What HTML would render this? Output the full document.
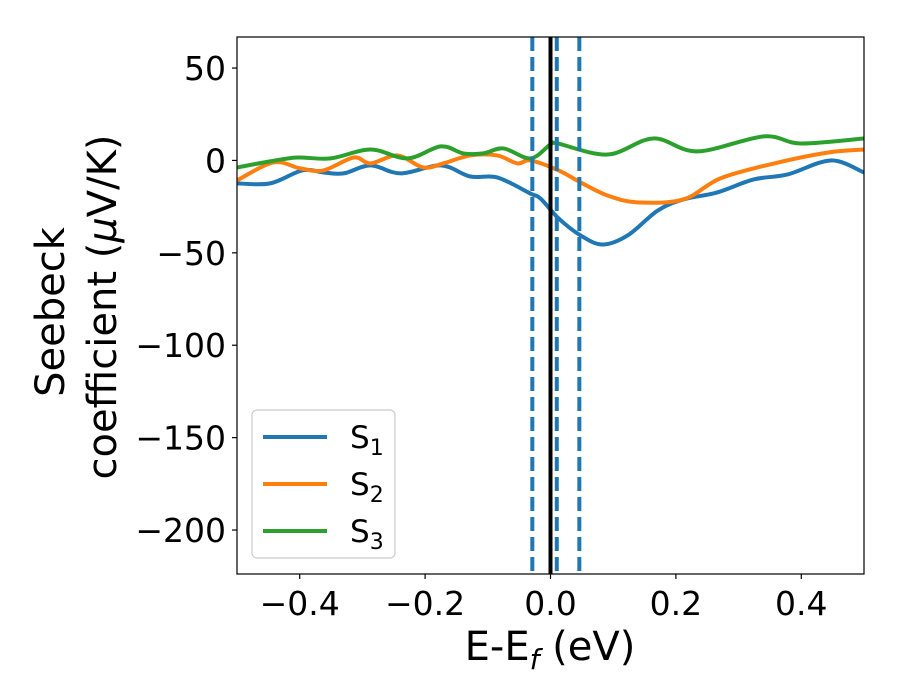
<!DOCTYPE html>
<html><head><meta charset="utf-8"><style>
body{margin:0;background:#fff}
svg{display:block;font-family:"DejaVu Sans","Liberation Sans",sans-serif}
</style></head><body>
<svg id="chart" width="900" height="700">
<rect width="900" height="700" fill="#fff"/>
<g id="plot"></g>
</svg>
<script>
const s1x=[-0.5,-0.447,-0.396,-0.362,-0.330,-0.287,-0.239,-0.175,-0.128,-0.085,-0.032,-0.016,0.013,0.048,0.083,0.123,0.171,0.212,0.266,0.324,0.378,0.447,0.5];
const s1y=[-12.4,-12.4,-5.4,-6.5,-7.0,-2.7,-7.0,-2.7,-8.7,-9.2,-17.9,-20.6,-31.4,-40.6,-45.5,-40.6,-27.1,-21.1,-17.3,-10.3,-7.6,0,-6.5];
const s2x=[-0.5,-0.442,-0.399,-0.362,-0.314,-0.287,-0.244,-0.203,-0.171,-0.128,-0.085,-0.053,-0.032,0.013,0.048,0.091,0.139,0.212,0.271,0.357,0.443,0.5];
const s2y=[-10.8,-1.1,-4.3,-5.4,1.6,-1.6,2.7,-3.8,-1.6,2.7,2.7,-1.6,0,-5.4,-11.9,-19.0,-22.7,-21.1,-9.7,-1.6,4.3,5.9];
const s3x=[-0.5,-0.447,-0.404,-0.351,-0.287,-0.228,-0.175,-0.139,-0.107,-0.075,-0.032,0.0,0.011,0.091,0.164,0.234,0.340,0.399,0.5];
const s3y=[-3.8,-0.5,1.6,1.1,5.9,1.1,7.6,3.8,3.8,6.5,1.1,8.7,9.2,3.2,11.9,4.9,13.0,9.2,11.9];
const xTicks=[-0.4,-0.2,0.0,0.2,0.4];
const xTickLabels=["\u22120.4","\u22120.2","0.0","0.2","0.4"];
const yTicks=[50,0,-50,-100,-150,-200];
const yTickLabels=["50","0","\u221250","\u2212100","\u2212150","\u2212200"];
const dashedLines=[-0.029,0.010,0.046];
const seriesNames=["S1","S2","S3"];
const colors=["#1f77b4","#ff7f0e","#2ca02c"];

const L=237,R=864,T=37,B=574,xmin=-0.5,xmax=0.5,ymin=-223.8,ymax=66.8;
const X=v=>L+(v-xmin)/(xmax-xmin)*(R-L);
const Y=v=>B-(v-ymin)/(ymax-ymin)*(B-T);
const NS="http://www.w3.org/2000/svg";
const g=document.getElementById('plot');
function mk(t,a,p){const e=document.createElementNS(NS,t);for(const k in a)e.setAttribute(k,a[k]);(p||g).appendChild(e);return e;}
function smooth(xs,ys){
  const p=xs.map((x,i)=>[X(x),Y(ys[i])]);
  let d=`M${p[0][0]},${p[0][1]}`;
  for(let i=0;i<p.length-1;i++){
    const p0=p[Math.max(0,i-1)],p1=p[i],p2=p[i+1],p3=p[Math.min(p.length-1,i+2)];
    const c1=[p1[0]+(p2[0]-p0[0])/6,p1[1]+(p2[1]-p0[1])/6];
    const c2=[p2[0]-(p3[0]-p1[0])/6,p2[1]-(p3[1]-p1[1])/6];
    d+=`C${c1[0]},${c1[1]} ${c2[0]},${c2[1]} ${p2[0]},${p2[1]}`;
  }
  return d;
}
const clip=mk('clipPath',{id:'cp'});mk('rect',{x:L,y:T,width:R-L,height:B-T},clip);
const series=[[s1x,s1y],[s2x,s2y],[s3x,s3y]];
series.forEach((s,i)=>{
  const e=mk('path',{d:smooth(s[0],s[1]),fill:'none',stroke:colors[i],'stroke-width':4,'clip-path':'url(#cp)'});
  
  
});
dashedLines.forEach((v,i)=>{
  const e=mk('line',{x1:X(v),x2:X(v),y1:T,y2:B,stroke:'#1f77b4','stroke-width':4,'stroke-dasharray':'14,6'});
  
  
});
const fl=mk('line',{x1:X(0),x2:X(0),y1:T,y2:B,stroke:'#000','stroke-width':4});


const frame=mk('rect',{x:L,y:T,width:R-L,height:B-T,fill:'none',stroke:'#000','stroke-width':1.2});


xTicks.forEach((v,i)=>{
  mk('line',{x1:X(v),x2:X(v),y1:B,y2:B+5,stroke:'#000','stroke-width':1.2});
  const t=mk('text',{x:X(v),y:B+41,'text-anchor':'middle','font-size':33});
  t.textContent=xTickLabels[i];
  
  
});
yTicks.forEach((v,i)=>{
  mk('line',{x1:L-5,x2:L,y1:Y(v),y2:Y(v),stroke:'#000','stroke-width':1.2});
  const t=mk('text',{x:L-11,y:Y(v)+12,'text-anchor':'end','font-size':33});
  t.textContent=yTickLabels[i];
  
  
});
const xt=mk('text',{x:550,y:660,'text-anchor':'middle','font-size':40});
xt.innerHTML='E-E<tspan font-style="italic" font-size="28" dy="9">f</tspan><tspan dy="-9"> (eV)</tspan>';


const yt=mk('text',{transform:'translate(64,312) rotate(-90)','text-anchor':'middle','font-size':40});
yt.textContent='Seebeck';


const yt2=mk('text',{transform:'translate(116,307) rotate(-90)','text-anchor':'middle','font-size':40});
yt2.innerHTML='coefficient  (<tspan font-style="italic">μ</tspan>V/K)';


const lg=mk('g',{});


mk('rect',{x:252,y:410,width:143,height:148,rx:5,fill:'#fff',stroke:'#ccc','stroke-width':1.2},lg);
seriesNames.forEach((n,i)=>{
  const yy=437+i*47;
  const ln=mk('line',{x1:263,x2:327,y1:yy,y2:yy,stroke:colors[i],'stroke-width':4},lg);
  
  
  const t=mk('text',{x:350,y:yy+11,'font-size':31},lg);
  t.innerHTML='S<tspan font-size="22" dy="7">'+(i+1)+'</tspan>';
  
  
});
</script>
</body></html>
